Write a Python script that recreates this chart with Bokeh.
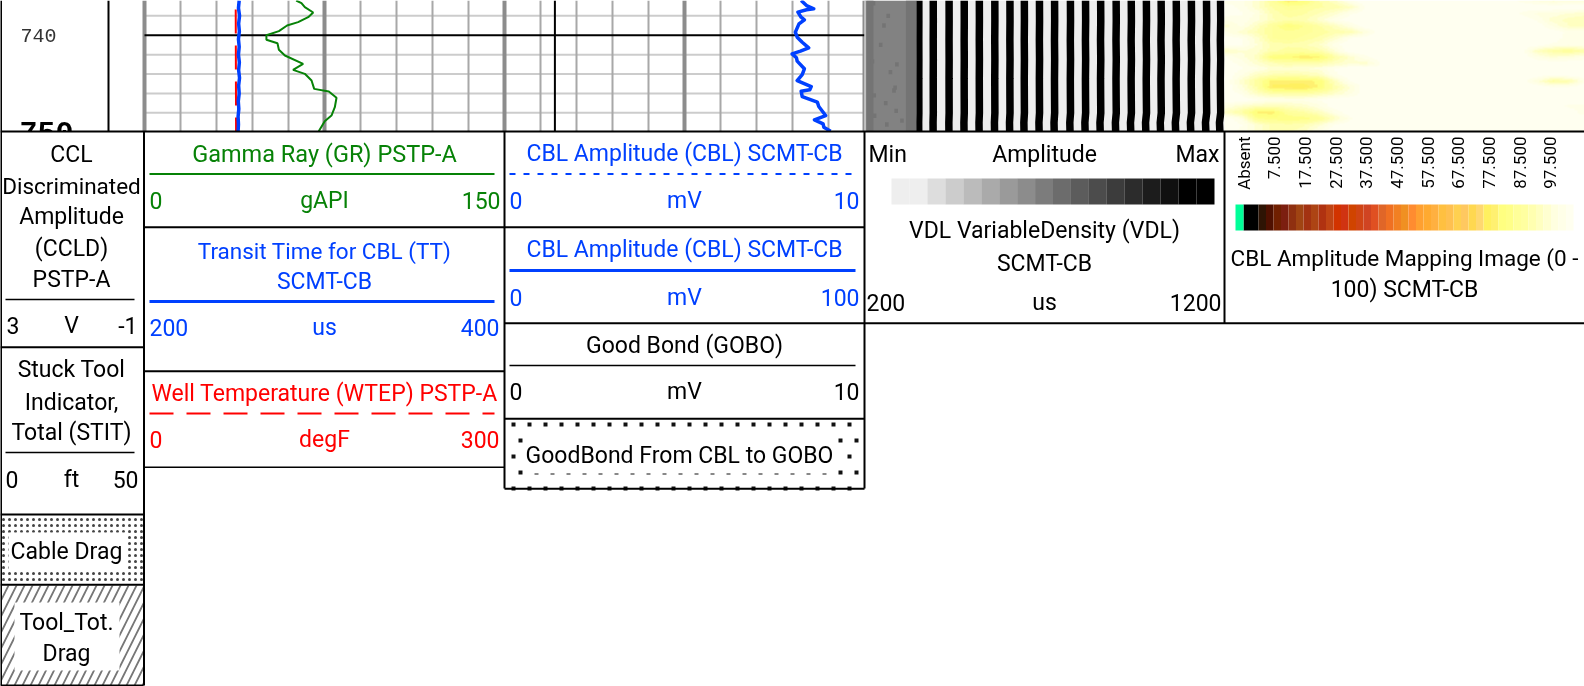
from bokeh.plotting import figure
from bokeh.models import Range1d, LinearColorMapper
from bokeh.core.properties import value
from bokeh.embed import file_html
from bokeh.resources import INLINE
import numpy as np

# ---------- data ----------
DEPTH_LABELS = [740]
DEPTH_BOLD = [750]
GRID_MINOR = [738, 742, 744, 746, 748]
GRID_MAJOR = [740]

GR_DEPTH = [736.42,736.69,737.11,737.66,738.14,738.65,739.0,739.58,740.0,740.47,740.82,741.5,742.09,742.95,743.57,743.98,744.67,745.53,745.8,746.45,747.42,748.28,748.86,749.89]
GR = [63.2,65.4,66.8,70.3,68.2,64.0,59.4,56.0,50.8,50.8,55.4,56.0,58.5,66.1,61.9,66.8,69.6,70.7,76.8,80.0,79.3,77.9,75.1,72.6]

CBL_DEPTH = [736.42,736.94,737.28,737.38,737.62,738.14,738.41,738.83,739.68,740.2,740.72,741.3,741.64,741.92,742.33,742.67,743.46,744.05,744.67,745.29,745.63,745.77,746.32,746.9,747.35,748.28,748.72,749.13,749.48,749.89]
CBL = [8.24,8.39,8.59,8.39,8.15,8.24,8.33,8.18,8.08,8.13,8.27,8.45,8.22,7.99,8.11,8.13,8.33,8.27,8.13,8.52,8.48,8.24,8.27,8.69,8.73,8.92,8.61,8.85,8.87,9.06]

TT_DEPTH = [736.42,737.2,738.0,738.8,739.6,740.4,741.2,742.0,742.8,743.6,744.4,745.2,746.0,746.8,747.6,748.4,749.2,749.9]
TT = [252.6,252.2,252.8,252.3,252.7,252.2,252.6,252.2,252.7,252.3,252.8,252.3,252.6,252.1,252.4,252.0,252.2,252.0]
WTEP_DEPTH = [736.42, 749.9]
WTEP = [76.0, 76.3]
GOBO_DEPTH = [736.42, 749.9]
GOBO = [1.4, 1.4]

VDL_STRIPES = [353,391,435,477,519,562,604,644,686,728,772,814,856,899,941,983,1024,1066,1108,1150,1189]
VDL_DEPTHS = [736.42,738.5,740.5,742.5,744.5,746.5,748.0,749.0,749.9]
VDL_SHIFT = [0.0,0.5,-0.5,0.5,-0.5,0.0,0.5,-3.0,-2.0]
VDL_SPECK_T = [225,254,245,266,285,282,304,222,259,262,290,227,272,288,228]
VDL_SPECK_D = [736.7,739.0,741.0,738.0,745.4,745.7,748.8,742.7,747.0,749.2,743.0,746.2,743.8,747.8,748.3]

AMP_VALUES = [
[97,96,92,84,76,78,86,90,97,100,100,100,100,100,100,100,100,100,100,97,95,93,94,94],
[99,97,92,86,83,84,86,87,90,98,100,100,100,100,100,100,100,100,100,100,100,100,100,100],
[99,98,95,88,85,86,89,92,97,100,100,100,100,100,100,100,100,100,100,97,95,95,93,92],
[96,97,94,89,87,88,92,97,100,100,100,100,100,100,100,100,100,100,100,100,97,92,90,89],
[92,96,90,84,78,82,86,90,95,100,100,100,100,100,100,100,100,100,100,100,100,95,91,90],
[96,92,88,84,83,83,85,87,88,94,100,100,100,100,100,100,100,100,100,100,100,100,97,97],
[99,98,92,84,83,85,87,92,98,100,100,100,100,100,100,100,100,100,100,100,100,100,96,96],
[99,98,93,88,87,88,91,97,100,100,100,100,100,100,100,100,100,100,100,100,100,97,96,97],
[90,93,92,87,85,85,87,93,100,100,100,100,100,100,100,100,100,100,100,100,90,86,84,87],
[98,94,90,78,78,75,76,86,92,97,100,100,100,100,100,100,100,100,100,100,96,93,94,96],
[99,97,92,89,87,88,88,90,93,92,98,100,100,100,100,100,100,100,100,100,100,100,100,100],
[99,98,96,92,92,93,94,98,100,100,100,100,100,100,100,100,100,100,100,100,100,100,100,100],
[100,96,90,88,87,88,90,97,100,100,100,100,100,100,100,100,100,100,100,100,100,98,100,100],
[100,92,85,76,76,76,78,90,98,100,100,100,100,100,100,100,100,100,100,100,94,86,87,96],
[100,94,86,74,74,73,78,87,93,100,100,100,100,100,100,100,100,100,100,100,100,98,98,100],
[100,97,90,87,86,86,88,91,95,100,100,100,100,100,100,100,100,100,100,100,100,100,100,100],
[100,100,98,96,96,96,98,100,100,100,100,100,100,100,100,100,100,100,100,100,100,98,100,100],
[95,92,90,89,90,92,95,100,100,100,100,100,100,100,100,100,100,100,100,100,100,100,97,97],
[90,86,76,76,84,86,90,96,100,100,100,100,100,100,100,100,100,100,100,100,100,100,100,96],
[100,95,82,80,80,80,83,90,97,100,100,100,100,100,100,100,100,100,100,100,100,100,100,100],
[100,98,92,88,87,88,92,98,100,100,100,100,100,100,100,100,100,100,100,100,100,100,100,100],
[100,97,92,88,88,90,96,100,100,100,100,100,100,100,100,100,100,100,100,100,100,100,100,100],
]

AMP_PALETTE = ["#000000","#000000","#2e1404","#4f1000","#701f00","#7c1f10","#8f3010","#a04412","#a33211","#ad4414","#b03211","#c04414","#d23300","#d03312","#d04400","#d04414","#d04422","#e05022","#e06628","#f07022","#f28022","#f09022","#ff8c30","#ffa030","#ffaa30","#ffb040","#ffc040","#ffc050","#ffd050","#ffc860","#ffd850","#ffd870","#fff060","#fff070","#ffff80","#ffff88","#ffff99","#ffffa0","#ffffb0","#ffffc0","#ffffd0","#ffffe0","#ffffe8","#fffff0"]
ABSENT_COLOR = "#00ff99"
VDL_PALETTE = ["#eeeeee","#eeeeee","#dddddd","#cccccc","#bbbbbb","#aaaaaa","#9a9a9a","#8c8c8c","#7c7c7c","#6c6c6c","#5c5c5c","#4c4c4c","#3c3c3c","#2c2c2c","#1c1c1c","#101010","#000000","#000000"]
AMP_TICKS = ["Absent","7.500","17.500","27.500","37.500","47.500","57.500","67.500","77.500","87.500","97.500"]

GREEN, BLUE, RED, BLACK = "#078207", "#0040ff", "#ff0000", "#000000"
FONT = "Roboto"

# ---------- figure ----------
W, H = 1584, 686
p = figure(width=W, height=H, x_range=Range1d(0, W), y_range=Range1d(H, 0),
           output_backend="svg", toolbar_location=None, min_border=0,
           x_axis_location=None, y_axis_location=None, outline_line_color=None,
           background_fill_color="white", border_fill_color="white")
p.grid.visible = False
p.styles = {"position": "fixed", "left": "0px", "top": "0px"}


def add_x(name, vmin, vmax, px0, px1):
    s = (vmax - vmin) / (px1 - px0)
    p.extra_x_ranges[name] = Range1d(vmin - px0 * s, vmin + (W - px0) * s)


D0, PXFT = 736.42, 9.7
p.extra_y_ranges["depth"] = Range1d(D0 + H / PXFT, D0)
add_x("gr", 0, 150, 144, 504)
add_x("tt", 200, 400, 144, 504)
add_x("wtep", 0, 300, 144, 504)
add_x("cbl", 0, 10, 504, 864)
add_x("gobo", 0, 10, 504, 864)
add_x("vdl", 200, 1200, 864, 1224)
add_x("amp", 0, 100, 1224, 1584)

TOP = 131
# ---------- grids ----------
xs_minor = [144 + 36 * i for i in range(21) if i % 5 != 0]
xs_major = [144 + 36 * i for i in range(21) if i % 5 == 0]
dd = np.array(GRID_MINOR)
p.segment(144, dd, 864, dd, y_range_name="depth", line_color="#cccccc", line_width=2)
p.segment(xs_minor, 0, xs_minor, TOP, line_color="#a8a8a8", line_width=2)
p.segment(xs_major, 0, xs_major, TOP, line_color="#8c8c8c", line_width=4)
dd = np.array(GRID_MAJOR)
p.segment(144, dd, 864, dd, y_range_name="depth", line_color="#000000", line_width=2)

# ---------- curves ----------
p.line(GOBO, GOBO_DEPTH, x_range_name="gobo", y_range_name="depth", line_color=BLACK, line_width=2)
p.line(WTEP, WTEP_DEPTH, x_range_name="wtep", y_range_name="depth", line_color=RED, line_width=2, line_dash="24 12", line_dash_offset=27)
p.line(TT, TT_DEPTH, x_range_name="tt", y_range_name="depth", line_color=BLUE, line_width=3.5)
p.line(GR, GR_DEPTH, x_range_name="gr", y_range_name="depth", line_color=GREEN, line_width=2)
p.line(CBL, CBL_DEPTH, x_range_name="cbl", y_range_name="depth", line_color=BLUE, line_width=3.5, line_join="round")

# ---------- VDL ----------
depth_end = D0 + TOP / PXFT
p.quad(left=[200], right=[1200], top=[D0], bottom=[depth_end], x_range_name="vdl", y_range_name="depth", fill_color="#eeeeee", line_color=None)
p.quad(left=[203], right=[345], top=[D0], bottom=[depth_end], x_range_name="vdl", y_range_name="depth", fill_color="#828282", line_color=None)
p.quad(left=[206, 315], right=[225, 345], top=[D0, D0], bottom=[depth_end, depth_end], x_range_name="vdl", y_range_name="depth", fill_color="#747474", line_color=None)
p.rect(VDL_SPECK_T, VDL_SPECK_D, width=10, height=0.45, x_range_name="vdl", y_range_name="depth", fill_color="#747474", line_color=None)
for i, t in enumerate(VDL_STRIPES):
    scale_f = (t - 200) / 1000
    p.line([t + s * scale_f for s in VDL_SHIFT], VDL_DEPTHS, x_range_name="vdl", y_range_name="depth",
           line_color="#000000", line_width=7.5 if i else 6)

# ---------- amplitude image ----------
# AMP_VALUES stays the data; the reference is a smoothed bitmap,
# so the matrix is only resampled for display, as a browser would when scaling it up.
arr = np.array(AMP_VALUES, dtype=float)
ny, nx = arr.shape
fine_y = np.linspace(0, ny - 1, ny * 6)
fine_x = np.linspace(0, nx - 1, nx * 6)
by_col = np.array([np.interp(fine_y, np.arange(ny), arr[:, j]) for j in range(nx)]).T
display = np.array([np.interp(fine_x, np.arange(nx), row) for row in by_col])
amp_mapper = LinearColorMapper(palette=AMP_PALETTE, low=0, high=100)
p.image(image=[display], x=0, y=D0, dw=100, dh=TOP / PXFT,
        color_mapper=amp_mapper, x_range_name="amp", y_range_name="depth")

# ---------- depth labels ----------
p.text([38], DEPTH_LABELS, text=[str(v) for v in DEPTH_LABELS], y_range_name="depth", text_font=value("Liberation Mono"),
       text_font_size="20px", text_align="center", text_baseline="middle", text_color="#333333")
p.text([46], DEPTH_BOLD, text=[str(v) for v in DEPTH_BOLD], y_range_name="depth", text_font=value("Liberation Mono"),
       text_font_size="30px", text_font_style="bold", text_align="center", text_baseline="middle", text_color="#000000")

# ---------- header panel ----------
p.quad(left=[0], right=[W], top=[TOP], bottom=[H], fill_color="white", line_color=None)

p.quad(left=[1], right=[143], top=[515], bottom=[584], fill_color="white", line_color=None,
       hatch_pattern="dot", hatch_color="#444444", hatch_scale=6, hatch_weight=1)
p.quad(left=[1], right=[143], top=[585], bottom=[685], fill_color="white", line_color=None,
       hatch_pattern="right_diagonal_line", hatch_color="#777777", hatch_scale=16, hatch_weight=1.8)
p.quad(left=[8, 14], right=[125, 119], top=[532, 602], bottom=[570, 670], fill_color="white", line_color=None)

rows_a = np.array([424, 456, 488])
rows_b = np.array([440, 472])
ax = np.arange(513, 855, 16)
bx = np.arange(520, 860, 16)
p.scatter(np.tile(ax, 3), np.repeat(rows_a, len(ax)), size=4, marker="square", fill_color="#111111", line_color=None)
p.scatter(np.tile(bx, 2), np.repeat(rows_b, len(bx)), size=4, marker="square", fill_color="#111111", line_color=None)
p.quad(left=[525], right=[836], top=[431], bottom=[473], fill_color="white", line_color=None)

# legends
n = len(VDL_PALETTE)
e = np.linspace(891, 1214, n + 1)
p.quad(left=e[:-1], right=e[1:], top=178, bottom=204, fill_color=VDL_PALETTE, line_color=None)
n = len(AMP_PALETTE)
e = np.linspace(1243, 1573, n + 1)
p.quad(left=e[:-1], right=e[1:], top=204, bottom=230, fill_color=AMP_PALETTE, line_color=None)
p.quad(left=[1235], right=[1243], top=[204], bottom=[230], fill_color=ABSENT_COLOR, line_color=None)

# rules
def rule(x0, x1, y, color, w=1.5, dash="solid"):
    p.line([x0, x1], [y, y], line_color=color, line_width=w, line_dash=dash)


rule(5, 134, 299, BLACK); rule(5, 134, 452, BLACK)
rule(149, 494, 173.5, GREEN, 2); rule(149, 494, 301, BLUE, 3)
rule(149, 494, 413, RED, 2, "24 13")
rule(509, 855, 173.5, BLUE, 2, "6 8"); rule(509, 855, 270, BLUE, 3)
rule(509, 855, 365, BLACK)

# borders
vl_x = [0.5, 108, 143.5, 504, 864, 1224]
vl_0 = [0, 0, 131, 131, 131, 131]
vl_1 = [685, 131, 685, 488, 488, 322.5]
p.segment(vl_x, vl_0, vl_x, vl_1, line_color=BLACK, line_width=2)
hl_x0 = [0, 0, 0, 0, 0, 144, 144, 504, 504, 504, 864]
hl_x1 = [W, 143, 143, 143, 143, 864, 504, 864, 864, 864, W]
hl_y = [131, 346.7, 514, 584.3, 685, 226.7, 370.7, 322.7, 418.3, 488.3, 322.7]
p.segment(hl_x0, hl_y, hl_x1, hl_y, line_color=BLACK, line_width=2)
p.segment(144, 466.7, 504, 466.7, line_color=BLACK, line_width=1.5)


def txt(x, y, s, color=BLACK, align="center", size="23px", angle=0, base="middle", font=FONT):
    p.text([x], [y], text=[s], text_color=color, text_align=align, text_baseline=base,
           text_font=value(font), text_font_size=size, angle=angle)


# Column 0
for y, s in [(153.5, "CCL"), (185, "Discriminated"), (216, "Amplitude"), (248, "(CCLD)"), (279, "PSTP-A"),
             (369, "Stuck Tool"), (401.5, "Indicator,"), (432, "Total (STIT)")]:
    txt(71, y, s, size="22.5px" if s == "Discriminated" else "23px")
txt(6, 325, "3", align="left"); txt(71, 325, "V"); txt(137, 325, "-1", align="right")
txt(5, 479, "0", align="left"); txt(71, 479, "ft"); txt(138, 479, "50", align="right")
txt(66, 551, "Cable Drag")
txt(66, 621.5, "Tool_Tot."); txt(66, 653, "Drag")

# Track 1
def scale(left, mid, right, y, lo, unit, hi, c=BLACK):
    txt(left, y, lo, c, "left"); txt(mid, y, unit, c); txt(right, y, hi, c, "right")


txt(324, 153, "Gamma Ray (GR) PSTP-A", GREEN, size="23.5px")
scale(149, 324, 500, 200, "0", "gAPI", "150", GREEN)
txt(324, 250, "Transit Time for CBL (TT)", BLUE, size="22.5px"); txt(324, 281, "SCMT-CB", BLUE)
scale(149, 324, 499, 327, "200", "us", "400", BLUE)
txt(324, 393, "Well Temperature (WTEP) PSTP-A", RED)
scale(149, 324, 499, 439, "0", "degF", "300", RED)

# Track 2
txt(684, 153, "CBL Amplitude (CBL) SCMT-CB", BLUE)
scale(509, 684, 859, 200, "0", "mV", "10", BLUE)
txt(684, 249, "CBL Amplitude (CBL) SCMT-CB", BLUE)
scale(509, 684, 859, 297, "0", "mV", "100", BLUE)
txt(684, 345, "Good Bond (GOBO)")
scale(509, 684, 859, 391, "0", "mV", "10")
txt(679, 455, "GoodBond From CBL to GOBO")

# Track 3
scale(868, 1044, 1219, 154, "Min", "Amplitude", "Max")
txt(1044, 230, "VDL VariableDensity (VDL)"); txt(1044, 262.5, "SCMT-CB")
scale(866, 1044, 1221, 302, "200", "us", "1200")

# Track 4
txt(1404, 257.5, "CBL Amplitude Mapping Image (0 -", size="22.5px"); txt(1404, 288.5, "100) SCMT-CB")
xt = np.linspace(1243, 1549.7, len(AMP_TICKS))
for x, s in zip(xt, AMP_TICKS):
    txt(x, 136, s, size="17px", align="right", angle=np.pi / 2)

open("out.html", "w").write(file_html(p, INLINE))
